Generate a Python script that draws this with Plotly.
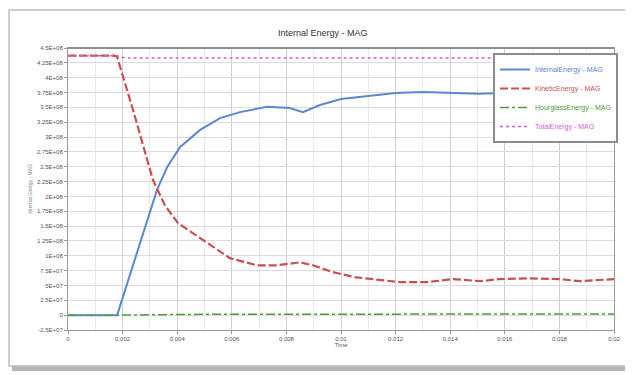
import plotly.graph_objects as go

# ---------------- data ----------------
internal_t = [0, 0.0018, 0.00326, 0.00363, 0.0041, 0.00484, 0.00557, 0.0063, 0.00729,
              0.00813, 0.0086, 0.00923, 0.010, 0.011, 0.012, 0.013, 0.014, 0.015,
              0.016, 0.017, 0.018, 0.019, 0.020]
internal_e = [0, 0, 2.11e8, 2.49e8, 2.83e8, 3.12e8, 3.32e8, 3.42e8, 3.51e8,
              3.49e8, 3.42e8, 3.54e8, 3.64e8, 3.69e8, 3.74e8, 3.76e8, 3.74e8, 3.73e8,
              3.74e8, 3.74e8, 3.75e8, 3.75e8, 3.75e8]

kinetic_t = [0, 0.0017, 0.0018, 0.00238, 0.00311, 0.00355, 0.00403, 0.00484, 0.00593,
             0.00692, 0.00766, 0.0085, 0.00897, 0.0097, 0.0105, 0.01216, 0.01315,
             0.0141, 0.0151, 0.0158, 0.0169, 0.018, 0.01875, 0.02]
kinetic_e = [4.37e8, 4.37e8, 4.35e8, 3.46e8, 2.28e8, 1.85e8, 1.55e8, 1.30e8, 0.96e8,
             0.84e8, 0.84e8, 0.89e8, 0.84e8, 0.725e8, 0.64e8, 0.556e8, 0.556e8,
             0.607e8, 0.573e8, 0.607e8, 0.62e8, 0.607e8, 0.573e8, 0.607e8]

hourglass_t = [0, 0.0018, 0.005, 0.01, 0.015, 0.02]
hourglass_e = [0, 0, 1.5e6, 2e6, 2e6, 2e6]

total_t = [0, 0.0018, 0.0021, 0.005, 0.01, 0.015, 0.02]
total_e = [4.37e8, 4.37e8, 4.33e8, 4.33e8, 4.33e8, 4.33e8, 4.33e8]

x_tickvals = [0, 0.002, 0.004, 0.006, 0.008, 0.01, 0.012, 0.014, 0.016, 0.018, 0.02]
x_ticktext = ["0", "0.002", "0.004", "0.006", "0.008", "0.01", "0.012", "0.014",
              "0.016", "0.018", "0.02"]
y_tickvals = [-2.5e7, 0, 2.5e7, 5e7, 7.5e7, 1e8, 1.25e8, 1.5e8, 1.75e8, 2e8, 2.25e8,
              2.5e8, 2.75e8, 3e8, 3.25e8, 3.5e8, 3.75e8, 4e8, 4.25e8, 4.5e8]
y_ticktext = ["-2.5E+07", "0", "2.5E+07", "5E+07", "7.5E+07", "1E+08", "1.25E+08",
              "1.5E+08", "1.75E+08", "2E+08", "2.25E+08", "2.5E+08", "2.75E+08",
              "3E+08", "3.25E+08", "3.5E+08", "3.75E+08", "4E+08", "4.25E+08", "4.5E+08"]

names = ["InternalEnergy - MAG", "KineticEnergy - MAG", "HourglassEnergy - MAG",
         "TotalEnergy - MAG"]
colors = ["#5b87d0", "#c9504b", "#4f9a3c", "#d65ad6"]

# ---------------- figure ----------------
# page has an 8px body margin: figure pixel = page pixel - 8
OFF = 8
W, H = 625, 367
L, R, T, B = 60, 19, 40, 45
pw, ph = W - L - R, H - T - B


def px(x):  # page x -> paper fraction
    return (x - OFF - L) / pw


def py(y):  # page y -> paper fraction
    return (H - B - (y - OFF)) / ph


fig = go.Figure()
fig.add_trace(go.Scatter(x=internal_t, y=internal_e, mode="lines",
                         name=f'<span style="color:{colors[0]}">{names[0]}</span>',
                         line=dict(color=colors[0], width=2)))
fig.add_trace(go.Scatter(x=kinetic_t, y=kinetic_e, mode="lines",
                         name=f'<span style="color:{colors[1]}">{names[1]}</span>',
                         line=dict(color=colors[1], width=2.2, dash="8px,3px")))
fig.add_trace(go.Scatter(x=hourglass_t, y=hourglass_e, mode="lines",
                         name=f'<span style="color:{colors[2]}">{names[2]}</span>',
                         line=dict(color=colors[2], width=1.5, dash="dashdot")))
fig.add_trace(go.Scatter(x=total_t, y=total_e, mode="lines",
                         name=f'<span style="color:{colors[3]}">{names[3]}</span>',
                         line=dict(color=colors[3], width=1.5, dash="dot")))

shapes = [
    # shadow
    dict(type="rect", xref="paper", yref="paper", layer="below",
         x0=px(12), x1=px(631), y0=py(13), y1=py(371),
         fillcolor="#b5b5b5", line=dict(width=0)),
    # frame
    dict(type="rect", xref="paper", yref="paper", layer="below",
         x0=px(9), x1=px(627), y0=py(10), y1=py(366),
         fillcolor="white", line=dict(color="#bdbdbd", width=1.5)),
    # top border of plot
    dict(type="line", xref="paper", yref="paper", layer="above",
         x0=0, x1=1, y0=1, y1=1, line=dict(color="#8c8c8c", width=2)),
]

fig.update_layout(
    width=W, height=H,
    margin=dict(l=L, r=R, t=T, b=B),
    paper_bgcolor="white",
    plot_bgcolor="rgba(0,0,0,0)",
    shapes=shapes,
    title=dict(text="Internal Energy - MAG", x=px(343), xanchor="center",
               y=1 - (33 - OFF) / H, yanchor="middle",
               font=dict(family="Liberation Sans, Arial", size=9, color="#333333")),
    font=dict(family="Liberation Sans, Arial", size=6, color="#555555"),
    showlegend=True,
    legend=dict(x=px(493), xanchor="left", y=py(53), yanchor="top",
                bgcolor="white", bordercolor="#8c8c8c", borderwidth=2,
                font=dict(size=7), tracegroupgap=0, itemwidth=30),
    xaxis=dict(range=[0, 0.02], tickvals=x_tickvals, ticktext=x_ticktext,
               showgrid=True, gridcolor="#cfcfcf", gridwidth=1,
               minor=dict(dtick=0.001, showgrid=True, gridcolor="#ebebeb", gridwidth=1),
               showline=True, linecolor="#9a9a9a", linewidth=1, mirror=True,
               ticks="outside", ticklen=3, tickcolor="#9a9a9a",
               zeroline=False, tickfont=dict(size=6, color="#555555"),
               title=dict(text="Time", font=dict(size=6, color="#555555"), standoff=0)),
    yaxis=dict(range=[-2.5e7, 4.5e8], tickvals=y_tickvals, ticktext=y_ticktext,
               showgrid=True, gridcolor="#dcdcdc", gridwidth=1,
               showline=True, linecolor="#9a9a9a", linewidth=1, mirror=True,
               ticks="outside", ticklen=3, tickcolor="#9a9a9a",
               zeroline=False, tickfont=dict(size=6, color="#555555"),
               title=dict(text="Internal Energy - MAG", font=dict(size=5, color="#888888"),
                          standoff=4)),
)

fig.write_html("out.html")
